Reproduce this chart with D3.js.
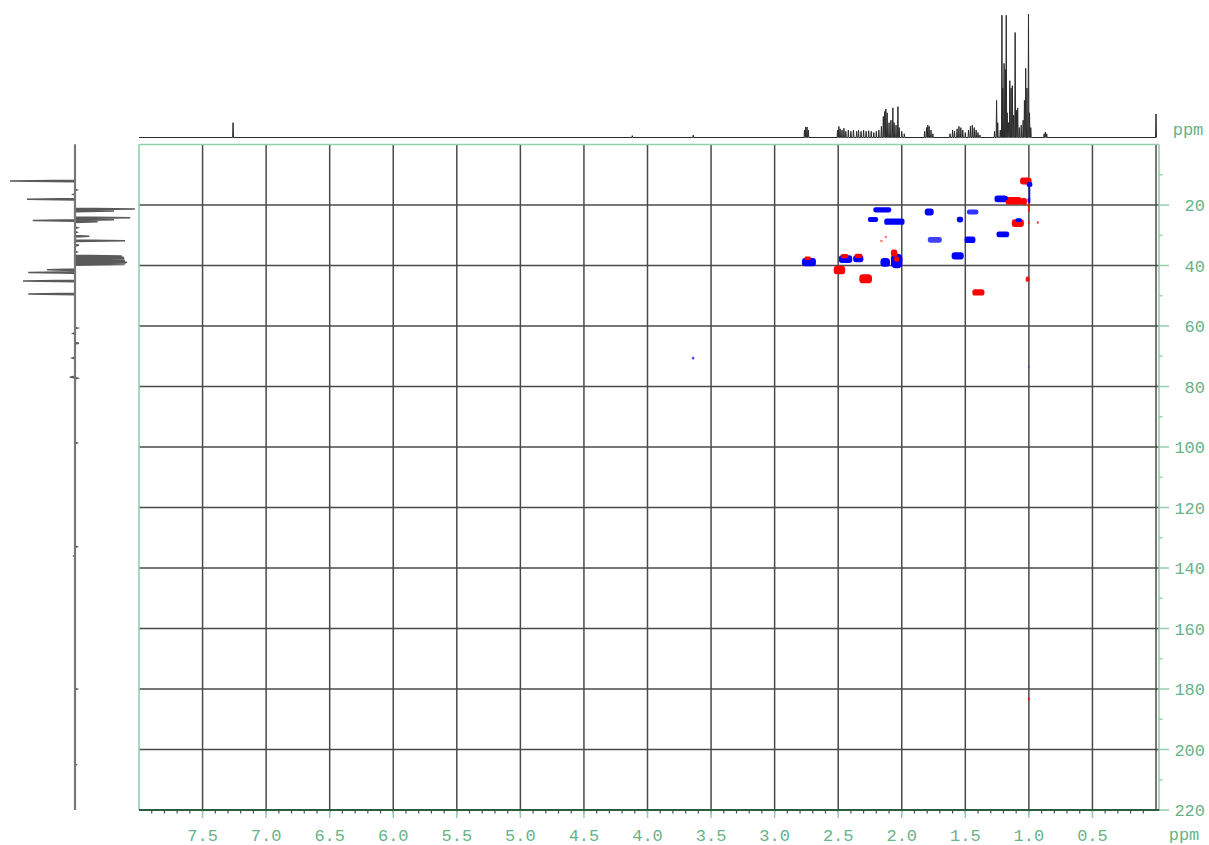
<!DOCTYPE html>
<html>
<head>
<meta charset="utf-8">
<script src="https://cdn.jsdelivr.net/npm/d3@7"></script>
<style>
  html, body { margin: 0; padding: 0; background: #ffffff; }
  svg { display: block; }
</style>
</head>
<body>
<svg id="chart" width="1209" height="845"></svg>
<script>
// ---- 1H projection (F2): [ppm, relative intensity 0-100] ----
const protonPeaks = [
  [7.26, 12], [4.12, 1.5], [3.64, 2],
  [2.765, 6], [2.755, 8.5], [2.745, 8.5], [2.735, 6],
  [2.505, 6], [2.495, 9], [2.485, 7], [2.47, 6], [2.455, 7.5], [2.44, 5],
  [2.42, 6], [2.40, 5], [2.38, 6], [2.355, 5], [2.34, 6], [2.32, 5],
  [2.30, 6], [2.28, 5], [2.26, 5.5], [2.24, 5], [2.22, 4], [2.20, 5],
  [2.18, 6], [2.16, 9], [2.145, 17], [2.135, 21], [2.125, 23], [2.115, 20],
  [2.10, 12], [2.085, 14], [2.07, 24], [2.06, 12], [2.045, 10], [2.03, 25],
  [2.02, 8], [2.00, 5], [1.98, 3],
  [1.82, 5], [1.805, 8], [1.795, 10], [1.785, 9], [1.77, 6], [1.755, 3],
  [1.62, 3], [1.60, 6], [1.585, 5], [1.565, 7], [1.55, 9], [1.535, 8],
  [1.52, 6], [1.50, 4], [1.475, 6], [1.46, 9], [1.445, 10], [1.43, 8],
  [1.415, 6], [1.40, 4], [1.385, 2],
  [1.27, 5], [1.254, 30], [1.245, 12], [1.225, 6],
  [1.212, 99], [1.205, 40], [1.195, 60], [1.185, 55], [1.178, 99], [1.17, 20],
  [1.16, 12], [1.15, 46], [1.14, 40], [1.13, 42], [1.12, 18],
  [1.108, 85], [1.098, 22], [1.088, 24], [1.075, 8], [1.06, 10],
  [1.045, 14], [1.035, 30], [1.025, 56], [1.015, 40], [1.003, 100],
  [0.995, 20], [0.985, 8],
  [0.88, 3], [0.87, 4.5], [0.86, 3],
  [0.0, 19]
];

// ---- 13C projection (F1): [ppm, signed intensity -100..100] ----
const carbonPeaks = [
  [12.1, -100], [15.0, 3], [16.5, -3], [18.1, -74],
  [21.3, 92], [22.0, 60], [24.2, 85], [24.9, 60], [25.1, -65], [25.5, 35],
  [27.5, 4], [29.0, 3], [30.3, 22], [31.8, 77], [33.3, 6], [35.5, 3],
  [36.9, 72], [37.3, 75], [37.7, 76], [38.1, 76], [38.5, 77], [38.9, 80],
  [39.3, 78], [39.7, 76],
  [41.4, -43], [42.3, -72], [45.1, -80], [49.4, -72],
  [60.7, 4], [62.5, -3], [65.7, 6], [70.6, -4], [76.9, -8], [77.3, 4],
  [98.7, 3], [133.0, 3], [136.0, -2], [180.0, 3], [205.0, 2]
];

// ---- HSQC cross peaks: [1H ppm, 13C ppm, 1H extent, 13C extent, phase, alpha] ----
const crossPeaks = [
  [1.024, 12.1, 0.09, 2.3, -1, 1],
  [0.995, 13.2, 0.045, 1.6, 1, 1],
  [0.995, 16.3, 0.012, 6.5, 1, 0.9],
  [1.220, 18.0, 0.10, 2.2, 1, 1],
  [1.120, 18.6, 0.13, 2.5, -1, 1],
  [1.040, 18.8, 0.05, 2.3, -1, 1],
  [1.180, 17.7, 0.03, 1.4, 1, 1],
  [1.000, 18.5, 0.02, 1.4, 1, 1],
  [1.000, 20.8, 0.015, 3.0, -1, 0.8],
  [2.153, 21.6, 0.14, 1.7, 1, 1],
  [1.784, 22.3, 0.07, 2.3, 1, 1],
  [1.442, 22.3, 0.09, 1.7, 1, 0.8],
  [2.226, 24.8, 0.08, 1.7, 1, 1],
  [2.058, 25.5, 0.16, 2.1, 1, 1],
  [1.542, 24.8, 0.05, 1.9, 1, 1],
  [1.087, 26.0, 0.095, 2.5, -1, 1],
  [1.080, 25.0, 0.05, 1.3, 1, 1],
  [0.930, 25.8, 0.015, 0.8, -1, 0.8],
  [1.000, 25.8, 0.015, 0.8, -1, 0.8],
  [1.205, 29.7, 0.10, 1.9, 1, 1],
  [2.160, 31.9, 0.02, 0.8, -1, 0.5],
  [2.125, 30.6, 0.02, 0.8, -1, 0.5],
  [1.740, 31.5, 0.11, 1.9, 1, 0.75],
  [1.463, 31.5, 0.085, 2.1, 1, 1],
  [1.560, 36.8, 0.095, 2.4, 1, 1],
  [2.730, 38.9, 0.11, 2.7, 1, 1],
  [2.740, 37.6, 0.05, 1.2, -1, 1],
  [2.442, 37.9, 0.105, 2.5, 1, 1],
  [2.450, 36.9, 0.06, 1.4, -1, 1],
  [2.342, 37.8, 0.08, 2.3, 1, 1],
  [2.340, 36.8, 0.06, 1.4, -1, 1],
  [2.490, 41.5, 0.09, 2.8, -1, 1],
  [2.284, 44.4, 0.10, 3.0, -1, 1],
  [2.130, 39.0, 0.075, 2.9, 1, 1],
  [2.040, 38.5, 0.09, 4.8, 1, 1],
  [2.060, 35.9, 0.05, 2.3, -1, 1],
  [2.040, 37.9, 0.04, 1.7, -1, 1],
  [1.397, 48.9, 0.095, 2.1, -1, 1],
  [1.010, 44.5, 0.03, 1.7, -1, 0.9],
  [3.641, 70.6, 0.02, 0.9, 1, 0.7],
  [1.000, 73.5, 0.01, 0.9, 1, 0.4],
  [1.000, 183.3, 0.015, 1.1, -1, 0.7]
];

// ---- axis ticks ----
const xTicks = [7.5, 7.0, 6.5, 6.0, 5.5, 5.0, 4.5, 4.0, 3.5, 3.0, 2.5, 2.0, 1.5, 1.0, 0.5];
const xMinorTicks = d3.range(1, 80).map(i => i / 10);
const yTicks = [20, 40, 60, 80, 100, 120, 140, 160, 180, 200, 220];
const yMinorTicks = [10, 30, 50, 70, 90, 110, 130, 150, 170, 190, 210];

const svg = d3.select("#chart");

const x = d3.scaleLinear().domain([8.0, 0.0]).range([139, 1156]);
const y = d3.scaleLinear().domain([0, 220]).range([144.5, 810]);
const yTop = d3.scaleLinear().domain([0, 100]).range([137.5, 14]);
const xLeft = d3.scaleLinear().domain([-100, 100]).range([10, 140]);

const lightGreen = "#93cfaa";
const textGreen = "#68b387";
const darkGreen = "#2d5c3e";
const gridColor = "#4a4a4a";
const monoFont = "'Liberation Mono', 'DejaVu Sans Mono', monospace";

// ---- grid ----
const grid = svg.append("g");
grid.selectAll("line.v").data(xTicks.concat([0.0])).join("line")
  .attr("x1", d => x(d)).attr("x2", d => x(d))
  .attr("y1", y(0)).attr("y2", y(220))
  .attr("stroke", gridColor).attr("stroke-width", 1.5);
grid.selectAll("line.h").data(yTicks.filter(d => d < 220)).join("line")
  .attr("x1", x(8.0)).attr("x2", 1159)
  .attr("y1", d => y(d)).attr("y2", d => y(d))
  .attr("stroke", gridColor).attr("stroke-width", 1.5);

// ---- frame ----
svg.append("line").attr("x1", x(8.0)).attr("x2", 1159).attr("y1", y(0)).attr("y2", y(0))
  .attr("stroke", lightGreen).attr("stroke-width", 1.6);
svg.append("line").attr("x1", x(8.0)).attr("x2", x(8.0)).attr("y1", y(0)).attr("y2", y(220))
  .attr("stroke", lightGreen).attr("stroke-width", 1.6);
svg.append("line").attr("x1", 1159).attr("x2", 1159).attr("y1", y(0)).attr("y2", y(220) + 1)
  .attr("stroke", lightGreen).attr("stroke-width", 1.6);

// ---- cross peaks ----
const peakW = d => Math.abs(x(d[0] - d[2] / 2) - x(d[0] + d[2] / 2));
const peakH = d => y(d[1] + d[3] / 2) - y(d[1] - d[3] / 2);
svg.append("g").selectAll("rect").data(crossPeaks).join("rect")
  .attr("x", d => x(d[0] + d[2] / 2))
  .attr("y", d => y(d[1] - d[3] / 2))
  .attr("width", peakW)
  .attr("height", peakH)
  .attr("rx", d => Math.min(peakW(d), peakH(d)) * 0.4)
  .attr("fill", d => d[4] > 0 ? "#0000ff" : "#ff0000")
  .attr("opacity", d => d[5]);

// ---- bottom axis (1H) ----
svg.append("g").selectAll("line").data(xMinorTicks).join("line")
  .attr("x1", d => x(d)).attr("x2", d => x(d))
  .attr("y1", y(220)).attr("y2", y(220) + 3.5)
  .attr("stroke", darkGreen).attr("stroke-width", 1.2);
svg.append("g").selectAll("line").data(xTicks).join("line")
  .attr("x1", d => x(d)).attr("x2", d => x(d))
  .attr("y1", y(220)).attr("y2", y(220) + 8)
  .attr("stroke", lightGreen).attr("stroke-width", 1.5);
svg.append("line").attr("x1", x(8.0)).attr("x2", 1160).attr("y1", y(220)).attr("y2", y(220))
  .attr("stroke", darkGreen).attr("stroke-width", 2);
svg.append("g").selectAll("text").data(xTicks).join("text")
  .attr("x", d => x(d)).attr("y", 841)
  .attr("text-anchor", "middle")
  .attr("font-family", monoFont).attr("font-size", 17)
  .attr("fill", textGreen)
  .text(d => d.toFixed(1));
svg.append("text").attr("x", 1184).attr("y", 840).attr("text-anchor", "middle")
  .attr("font-family", monoFont).attr("font-size", 17).attr("fill", textGreen).text("ppm");

// ---- right axis (13C) ----
svg.append("g").selectAll("line").data(yMinorTicks).join("line")
  .attr("x1", 1159).attr("x2", 1162.5)
  .attr("y1", d => y(d)).attr("y2", d => y(d))
  .attr("stroke", lightGreen).attr("stroke-width", 1.4);
svg.append("g").selectAll("line").data(yTicks).join("line")
  .attr("x1", 1159).attr("x2", 1169)
  .attr("y1", d => y(d)).attr("y2", d => y(d))
  .attr("stroke", lightGreen).attr("stroke-width", 1.5);
svg.append("g").selectAll("text").data(yTicks).join("text")
  .attr("x", 1205).attr("y", d => y(d)).attr("dy", "0.36em")
  .attr("text-anchor", "end")
  .attr("font-family", monoFont).attr("font-size", 17)
  .attr("fill", textGreen)
  .text(d => d);
svg.append("text").attr("x", 1188).attr("y", 135).attr("text-anchor", "middle")
  .attr("font-family", monoFont).attr("font-size", 17).attr("fill", textGreen).text("ppm");

// ---- 1H projection trace ----
const hw = 0.0035;
const topPts = [[8.0, 0]];
protonPeaks.slice().sort((a, b) => b[0] - a[0]).forEach(p => {
  topPts.push([p[0] + hw, 0], [p[0], p[1]], [p[0] - hw, 0]);
});
topPts.push([-0.005, 0]);
svg.append("path")
  .attr("d", d3.line().x(d => x(d[0])).y(d => yTop(d[1]))(topPts))
  .attr("fill", "none").attr("stroke", "#2a2a2a").attr("stroke-width", 1);

// ---- 13C projection trace ----
const cw = 0.25;
const leftPts = [[0, 0]];
carbonPeaks.slice().sort((a, b) => a[0] - b[0]).forEach(p => {
  leftPts.push([p[0] - cw, 0], [p[0], p[1]], [p[0] + cw, 0]);
});
leftPts.push([220, 0]);
svg.append("path")
  .attr("d", d3.line().x(d => xLeft(d[1])).y(d => y(d[0]))(leftPts))
  .attr("fill", "none").attr("stroke", "#5a5a5a").attr("stroke-width", 1.5);
svg.append("line").attr("x1", xLeft(0)).attr("x2", xLeft(0)).attr("y1", y(0)).attr("y2", y(220))
  .attr("stroke", "#777").attr("stroke-width", 2.2);
</script>
</body>
</html>
